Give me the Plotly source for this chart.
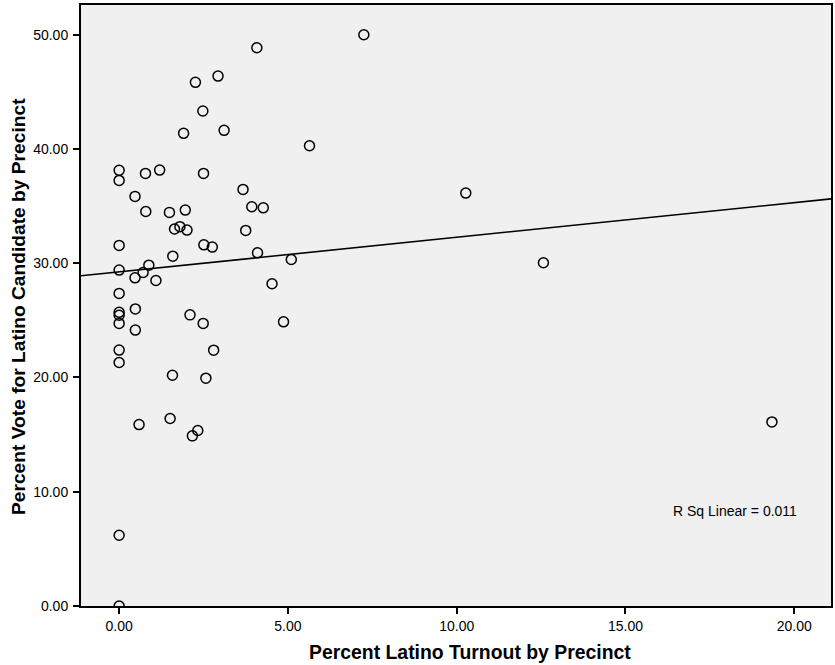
import numpy as np
import plotly.graph_objects as go

turnout = [0, 0, 0, 0, 0, 0, 0, 0, 0, 0, 0, 0,
           0.47, 0.79, 0.78, 1.20, 0.47, 0.71, 0.88, 1.09, 0.48, 0.48,
           1.49, 1.96, 1.64, 1.80, 2.01, 1.59, 1.91, 2.26, 2.93, 2.48,
           3.11, 2.50, 4.08, 3.67, 3.93, 4.27, 3.75, 2.51, 2.76, 4.10,
           5.10, 4.53, 2.10, 2.49, 4.87, 1.58, 2.80, 2.57, 1.51, 0.59,
           2.33, 2.17, 7.25, 5.64, 10.27, 12.57, 19.34]
vote = [0, 6.19, 21.31, 22.40, 24.73, 25.70, 25.45, 27.36, 29.40, 31.56, 37.25, 38.13,
        35.85, 34.53, 37.86, 38.15, 28.72, 29.19, 29.83, 28.49, 26.00, 24.15,
        34.45, 34.65, 33.00, 33.20, 32.90, 30.62, 41.37, 45.83, 46.38, 43.32,
        41.63, 37.86, 48.86, 36.46, 34.94, 34.85, 32.87, 31.61, 31.41, 30.91,
        30.33, 28.20, 25.48, 24.73, 24.87, 20.20, 22.39, 19.94, 16.41, 15.88,
        15.36, 14.89, 50.00, 40.28, 36.14, 30.04, 16.11]

x_range = [-1.13, 21.09]
y_range = [0, 52.6]
y_ticks = [0, 10, 20, 30, 40, 50]
x_ticks = [0, 5, 10, 15, 20]
x_title = "Percent Latino Turnout by Precinct"
y_title = "Percent Vote for Latino Candidate by Precinct"
r_sq_label = "R Sq Linear = 0.011"

slope, intercept = np.polyfit(turnout, vote, 1)
fit_x = np.array(x_range)
fit_y = intercept + slope * fit_x

font = "Liberation Sans, Arial, sans-serif"

fig = go.Figure()
fig.add_trace(go.Scatter(
    x=fit_x, y=fit_y, mode="lines",
    line=dict(color="black", width=1.6), hoverinfo="skip", showlegend=False))
fig.add_trace(go.Scatter(
    x=turnout, y=vote, mode="markers",
    marker=dict(symbol="circle-open", size=10, color="black", line=dict(width=1.5)),
    showlegend=False))

fig.add_annotation(x=18.26, y=8.32, text=r_sq_label, showarrow=False,
                   font=dict(family=font, size=14, color="black"))
fig.add_annotation(xref="paper", yref="paper", x=0.518, y=-0.0765,
                   text="<b>" + x_title + "</b>", showarrow=False,
                   xanchor="center", yanchor="middle",
                   font=dict(family=font, size=19.4, color="black"))
fig.add_annotation(xref="paper", yref="paper", x=-0.084, y=0.4975,
                   text="<b>" + y_title + "</b>", showarrow=False, textangle=-90,
                   xanchor="center", yanchor="middle",
                   font=dict(family=font, size=19.2, color="black"))

fig.update_layout(
    width=835, height=665,
    margin=dict(l=81, r=4, t=5, b=59, autoexpand=False),
    paper_bgcolor="white", plot_bgcolor="#f0f0f0",
    font=dict(family=font, size=14, color="black"),
)
fig.update_xaxes(
    range=x_range, tickvals=x_ticks, ticktext=[f"{v:.2f}" for v in x_ticks],
    showgrid=False, zeroline=False, showline=True, linecolor="black", linewidth=2,
    mirror=True, ticks="outside", ticklen=6, tickwidth=2, tickcolor="black",
    tickfont=dict(size=14), automargin=False,
)
fig.update_yaxes(
    range=y_range, tickvals=y_ticks, ticktext=[f"{v:.2f}" for v in y_ticks],
    showgrid=False, zeroline=False, showline=True, linecolor="black", linewidth=2,
    mirror=True, ticks="outside", ticklen=6, tickwidth=2, tickcolor="black",
    tickfont=dict(size=14), automargin=False, ticklabelstandoff=2,
)

fig.write_html("out.html", config={"displayModeBar": False},
               post_script="document.body.style.margin='0px';document.body.style.overflow='hidden';")
